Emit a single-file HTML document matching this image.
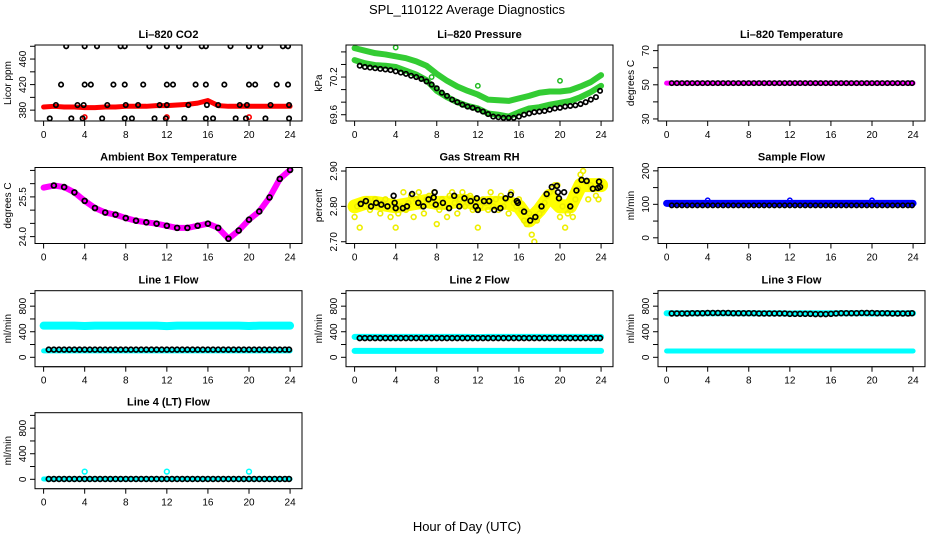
<!DOCTYPE html>
<html><head><meta charset="utf-8"><style>
body{margin:0;background:#fff}
svg{display:block;font-family:"Liberation Sans",sans-serif}
</style></head><body>
<svg id="chart" width="936" height="540" viewBox="0 0 936 540">
<text x="467" y="14" font-size="13" text-anchor="middle">SPL_110122  Average Diagnostics</text>
<text x="467" y="531" font-size="13" text-anchor="middle">Hour of Day (UTC)</text>
</svg>
<script>
const xTicks = [0,4,8,12,16,20,24];
const H25 = [0,1,2,3,4,5,6,7,8,9,10,11,12,13,14,15,16,17,18,19,20,21,22,23,24];
const Hb = [0.5,1,1.5,2,2.5,3,3.5,4,4.5,5,5.5,6,6.5,7,7.5,8,8.5,9,9.5,10,10.5,11,11.5,12,12.5,13,13.5,14,14.5,15,15.5,16,16.5,17,17.5,18,18.5,19,19.5,20,20.5,21,21.5,22,22.5,23,23.5,23.9];
// CO2
const co2Red = [385,386,385,385,384,384,385,385,386,386,386,387,387,388,389,391,395,387,386,386,386,386,386,386,386];
const co2BlackH = [2.2,4,5.2,7.5,7.9,10.3,12,13.2,15.4,15.8,18.2,20,21.1,23.3,23.8, 1.7,4,4.6,6.8,7.9,9.7,12,12.6,14.8,15.8,17.6,20,20.6,22.7,23.8, 1.2,3.3,3.9,6.2,8,9.2,11.3,12,14.1,15.9,17,19.1,19.8,22.1,23.9, 0.6,2.7,3.8,5.7,7.9,8.6,10.8,11.9,13.7,15.8,16.5,18.7,19.7,21.6,23.9];
const co2BlackV = [480,480,480,480,480,480,480,480,480,480,480,480,480,480,480, 420,420,420,420,420,420,420,420,420,420,420,420,420,420,420, 388,388,388,388,388,388,388,388,388,388,388,388,388,388,388, 367,367,367,367,367,367,367,367,367,367,367,367,367,367,367];
const co2OutH = [4,12,20];
const co2OutV = [369,369,369];
// Pressure
const presUpper = [70.66,70.62,70.58,70.56,70.53,70.50,70.45,70.38,70.25,70.14,70.05,69.98,69.92,69.84,69.83,69.82,69.86,69.90,69.95,69.97,69.97,69.99,70.05,70.12,70.23];
const presLower = [70.47,70.42,70.39,70.38,70.36,70.30,70.24,70.15,69.98,69.88,69.80,69.74,69.70,69.62,69.60,69.57,69.64,69.70,69.72,69.76,69.79,69.82,69.88,69.96,70.06];
const presBlackH = [0.5,1,1.5,2,2.5,3,3.5,4,4.5,5,5.5,6,6.5,7,7.5,8,8.5,9,9.5,10,10.5,11,11.5,12,12.5,13,13.5,14,14.5,15,15.5,16,16.5,17,17.5,18,18.5,19,19.5,20,20.5,21,21.5,22,22.5,23,23.5,23.9];
const presBlack = [70.38,70.36,70.35,70.34,70.33,70.32,70.31,70.29,70.27,70.25,70.22,70.20,70.17,70.13,70.08,70.02,69.95,69.90,69.84,69.80,69.76,69.73,69.71,69.68,69.65,69.61,69.57,69.56,69.55,69.55,69.55,69.57,69.60,69.62,69.64,69.65,69.66,69.68,69.70,69.71,69.73,69.74,69.75,69.77,69.80,69.84,69.88,69.98];
const presOutH = [4,12,20,7.5];
const presOutV = [70.67,70.06,70.14,70.2];
// Li-820 temperature
const tempMag = [51,51,51,51,51,51,51,51,51,51,51,51,51,51,51,51,51,51,51,51,51,51,51,51,51];
const tempBlack = [51,51,51,51,51,51,51,51,51,51,51,51,51,51,51,51,51,51,51,51,51,51,51,51,51,51,51,51,51,51,51,51,51,51,51,51,51,51,51,51,51,51,51,51,51,51,51,51];
// Ambient
const ambMag = [25.85,25.93,25.87,25.67,25.35,25.08,24.91,24.83,24.70,24.60,24.54,24.49,24.41,24.33,24.33,24.41,24.49,24.33,23.92,24.23,24.64,24.95,25.48,26.18,26.52];
// RH
const rhBlackH = [0.6,1.1,1.6,2.1,2.6,3.2,3.8,3.9,4,4.7,5.1,5.6,6.2,6.7,7.2,7.7,7.8,7.9,8.6,9.2,9.7,10.2,10.7,11.3,11.8,11.9,12,12.6,13.1,13.6,14.2,14.7,15.2,15.8,15.9,16.5,17.1,17.6,18.2,18.7,19.2,19.7,19.8,19.9,20.4,21.0,21.6,22.1,22.6,23.2,23.7,23.8,23.9];
const rhBlack = [2.807,2.815,2.80,2.81,2.805,2.80,2.83,2.81,2.795,2.795,2.80,2.835,2.81,2.80,2.82,2.825,2.84,2.805,2.81,2.795,2.83,2.80,2.823,2.815,2.80,2.823,2.79,2.815,2.815,2.79,2.795,2.823,2.833,2.815,2.81,2.785,2.76,2.77,2.80,2.835,2.855,2.858,2.84,2.823,2.84,2.80,2.845,2.875,2.872,2.85,2.852,2.87,2.855];
const rhYellow = [2.77,2.80,2.74,2.81,2.80,2.82,2.79,2.81,2.82, 2.80,2.78,2.81,2.82,2.80,2.77,2.80,2.74, 2.78,2.80,2.84,2.79,2.81,2.83,2.77,2.82, 2.84,2.80,2.78,2.82,2.83,2.81,2.84,2.75, 2.79,2.82,2.80,2.77,2.83,2.84,2.81,2.78, 2.82,2.84,2.80,2.81,2.83,2.79,2.81,2.74, 2.80,2.82,2.81,2.79,2.84,2.80,2.82,2.79, 2.83,2.80,2.82,2.78,2.84,2.81,2.80,2.82, 2.79,2.76,2.75,2.78,2.72,2.70,2.76,2.78, 2.79,2.81,2.83,2.84,2.85,2.86,2.86,2.77, 2.80,2.74,2.78,2.79,2.77,2.82,2.85,2.89, 2.90,2.87,2.82,2.86,2.85,2.83,2.82,2.86];
const rhYellowH = [0,0.25,0.5,0.75,1,1.25,1.5,1.75,2,2.25,2.5,2.75,3,3.25,3.5,3.75,4,4.25,4.5,4.75,5,5.25,5.5,5.75,6,6.25,6.5,6.75,7,7.25,7.5,7.75,8,8.25,8.5,8.75,9,9.25,9.5,9.75,10,10.25,10.5,10.75,11,11.25,11.5,11.75,12,12.25,12.5,12.75,13,13.25,13.5,13.75,14,14.25,14.5,14.75,15,15.25,15.5,15.75,16,16.25,16.5,16.75,17,17.25,17.5,17.75,18,18.25,18.5,18.75,19,19.25,19.5,19.75,20,20.25,20.5,20.75,21,21.25,21.5,21.75,22,22.25,22.5,22.75,23,23.25,23.5,23.75,24];
const rhBand = [2.80,2.81,2.81,2.805,2.80,2.805,2.81,2.815,2.81,2.81,2.815,2.815,2.805,2.81,2.81,2.81,2.80,2.76,2.79,2.83,2.80,2.80,2.86,2.86,2.86];
// Flows
const sfBlue = [103,103,103,103,103,103,103,103,103,103,103,103,103,103,103,103,103,103,103,103,103,103,103,103,103];
const sfBlack = [97,97,97,97,97,97,97,97,97,97,97,97,97,97,97,97,97,97,97,97,97,97,97,97,97,97,97,97,97,97,97,97,97,97,97,97,97,97,97,97,97,97,97,97,97,97,97,97];
const sfOutH = [4,12,20];
const sfOutV = [112,112,112];
const l1High = [495,495,495,495,490,495,495,495,495,495,495,495,488,495,495,495,495,495,495,495,490,495,495,495,495];
const l1Low = [100,100,100,100,100,100,100,100,100,100,100,100,100,100,100,100,100,100,100,100,100,100,100,100,100];
const l1Black = [120,120,120,120,120,120,120,120,120,120,120,120,120,120,120,120,120,120,120,120,120,120,120,120,120,120,120,120,120,120,120,120,120,120,120,120,120,120,120,120,120,120,120,120,120,120,120,120];
const l2High = [320,320,320,320,320,320,320,320,320,320,320,320,315,320,320,320,320,320,320,320,320,320,320,320,320];
const l2Low = [100,100,100,100,100,100,100,100,100,100,100,100,100,100,100,100,100,100,100,100,100,100,100,100,100];
const l2Black = [300,300,300,300,300,300,300,300,300,300,300,300,300,300,300,300,300,300,300,300,300,300,300,300,300,300,300,300,300,300,300,300,300,300,300,300,300,300,300,300,300,300,300,300,300,300,300,300];
const l3High = [690,690,690,690,690,690,690,690,690,690,690,690,685,690,690,690,690,690,690,690,685,690,690,690,690];
const l3Low = [98,98,98,98,98,98,98,98,98,98,98,98,98,98,98,98,98,98,98,98,98,98,98,98,98];
const l3Black = [686,686,686,686,690,690,690,694,694,694,694,694,690,690,690,690,690,686,686,686,686,686,686,680,680,680,680,680,676,676,676,680,686,690,690,690,690,694,694,694,690,690,690,686,686,686,686,690];
const l4Cyan = [5,5,5,5,5,5,5,5,5,5,5,5,5,5,5,5,5,5,5,5,5,5,5,5,5];
const l4Black = [5,5,5,5,5,5,5,5,5,5,5,5,5,5,5,5,5,5,5,5,5,5,5,5,5,5,5,5,5,5,5,5,5,5,5,5,5,5,5,5,5,5,5,5,5,5,5,5];
const l4OutH = [4,12,20];
const l4OutV = [120,120,120];

const NS = "http://www.w3.org/2000/svg";
const svg = document.getElementById('chart');
function mk(tag, attrs, parent){const e=document.createElementNS(NS,tag);for(const k in attrs)e.setAttribute(k,attrs[k]);(parent||svg).appendChild(e);return e;}

const rowTops=[45,167.5,290.7,412.7], colLefts=[35,346,658], BW=267, BH=76;
function panel(col,row,title,ylab,ymin,ymax,ticks,labels,name){
  const L=colLefts[col],T=rowTops[row];
  const g=mk('g',{});
  
  
  const xs=h=>L+8.6+h*10.27;
  const ys=v=>T+BH-(v-ymin)/(ymax-ymin)*BH;
  const t=mk('text',{x:L+BW/2,y:T-7,'font-size':11,'font-weight':'bold','text-anchor':'middle'},g);
  t.textContent=title;
  
  
  const yl=mk('text',{transform:`translate(${L-24},${T+BH/2}) rotate(-90)`,'font-size':10,'text-anchor':'middle'},g);
  yl.textContent=ylab;
  
  
  const xa=mk('g',{},g);
  
  
  mk('line',{x1:xs(0),x2:xs(24),y1:T+BH,y2:T+BH,stroke:'#000'},xa);
  xTicks.forEach(h=>{
    mk('line',{x1:xs(h),x2:xs(h),y1:T+BH,y2:T+BH+5,stroke:'#000'},xa);
    const tl=mk('text',{x:xs(h),y:T+BH+17,'font-size':10,'text-anchor':'middle'},xa);
    tl.textContent=h;
  });
  const ya=mk('g',{},g);
  
  
  ticks.forEach(v=>mk('line',{x1:L-5,x2:L,y1:ys(v),y2:ys(v),stroke:'#000'},ya));
  labels.forEach(s=>{
    const v=parseFloat(s);
    const tl=mk('text',{transform:`translate(${L-9},${ys(v)}) rotate(-90)`,'font-size':10,'text-anchor':'middle'},ya);
    tl.textContent=s;
  });
  const clip='clip-'+name;
  const cp=mk('clipPath',{id:clip},g);mk('rect',{x:L,y:T,width:BW,height:BH},cp);
  const marks=mk('g',{'clip-path':`url(#${clip})`},g);
  mk('rect',{x:L,y:T,width:BW,height:BH,fill:'none',stroke:'#000'},g);
  return {xs,ys,marks};
}
function band(p,hs,vs,color,w,name,dash){
  const a={points:hs.map((h,i)=>p.xs(h)+','+p.ys(vs[i])).join(' '),fill:'none',stroke:color,'stroke-width':w,'stroke-linejoin':'round','stroke-linecap':'round'};
  const pl=mk('polyline',a,p.marks);
  
  
}
function pts(p,hs,vs,color,r,sw,name){
  const g=mk('g',{},p.marks);
  
  
  hs.forEach((h,i)=>mk('circle',{cx:p.xs(h),cy:p.ys(vs[i]),r:r,fill:'none',stroke:color,'stroke-width':sw},g));
}

let p;
p=panel(0,0,'Li\u2013820 CO2','Licor ppm',363,482,[380,400,420,440,460,480],['380','420','460'],'co2');
band(p,H25,co2Red,'#ff0000',5,'co2-red-series');
pts(p,co2OutH,co2OutV,'#ff0000',2.2,1.6,'co2-red-outliers');
pts(p,co2BlackH,co2BlackV,'#000',2.2,1.7,'co2-black-points');

p=panel(1,0,'Li\u2013820 Pressure','kPa',69.5,70.71,[69.6,69.8,70.0,70.2,70.4,70.6],['69.6','70.2'],'pressure');
band(p,H25,presUpper,'#33cc33',6,'pressure-upper-band');
band(p,H25,presLower,'#33cc33',6,'pressure-lower-band');
pts(p,presOutH,presOutV,'#22bb22',2.2,1.5,'pressure-outliers');
pts(p,presBlackH,presBlack,'#000',2.2,1.7,'pressure-black-points');

p=panel(2,0,'Li\u2013820 Temperature','degrees C',28.8,73.3,[30,40,50,60,70],['30','50','70'],'li820-temp');
band(p,H25,tempMag,'#ff00ff',5,'temp-magenta-band');
pts(p,Hb,tempBlack,'#000',2.2,1.6,'temp-black-points');

p=panel(0,1,'Ambient Box Temperature','degrees C',23.74,26.61,[24,24.5,25,25.5,26,26.5],['24.0','25.5'],'ambient');
band(p,H25,ambMag,'#ff00ff',6,'ambient-magenta-band');
pts(p,H25.slice(1),ambMag.slice(1),'#000',2.4,1.8,'ambient-black-points');

p=panel(1,1,'Gas Stream RH','percent',2.695,2.91,[2.70,2.80,2.90],['2.70','2.80','2.90'],'rh');
band(p,H25,rhBand,'#ffff00',14,'rh-yellow-band');
pts(p,rhYellowH,rhYellow,'#eeee00',2.4,1.6,'rh-yellow-points');
pts(p,rhBlackH,rhBlack,'#000',2.4,1.7,'rh-black-points');

p=panel(2,1,'Sample Flow','ml/min',-17,210,[0,50,100,150,200],['0','100','200'],'sample-flow');
band(p,H25,sfBlue,'#0000ff',7,'sample-flow-blue-band');
pts(p,sfOutH,sfOutV,'#0000ff',2.2,1.5,'sample-flow-outliers');
pts(p,Hb,sfBlack,'#000',2.2,1.6,'sample-flow-black-points');

const fT=[0,200,400,600,800,1000], fL=['0','400','800'];
p=panel(0,2,'Line 1 Flow','ml/min',-147,1042,fT,fL,'line1');
band(p,H25,l1High,'#00ffff',8,'line1-cyan-high');
band(p,H25,l1Low,'#00ffff',5,'line1-cyan-low');
pts(p,Hb,l1Black,'#000',2.4,1.7,'line1-black-points');

p=panel(1,2,'Line 2 Flow','ml/min',-147,1042,fT,fL,'line2');
band(p,H25,l2High,'#00ffff',6,'line2-cyan-high');
band(p,H25,l2Low,'#00ffff',6,'line2-cyan-low');
pts(p,Hb,l2Black,'#000',2.4,1.7,'line2-black-points');

p=panel(2,2,'Line 3 Flow','ml/min',-147,1042,fT,fL,'line3');
band(p,H25,l3High,'#00ffff',6,'line3-cyan-high');
band(p,H25,l3Low,'#00ffff',5,'line3-cyan-low');
pts(p,Hb,l3Black,'#000',2.4,1.7,'line3-black-points');

p=panel(0,3,'Line 4 (LT) Flow','ml/min',-147,1042,fT,fL,'line4');
band(p,H25,l4Cyan,'#00ffff',5,'line4-cyan-band');
pts(p,l4OutH,l4OutV,'#00ffff',2.4,1.5,'line4-outliers');
pts(p,Hb,l4Black,'#000',2.4,1.7,'line4-black-points');
</script>
</body></html>
